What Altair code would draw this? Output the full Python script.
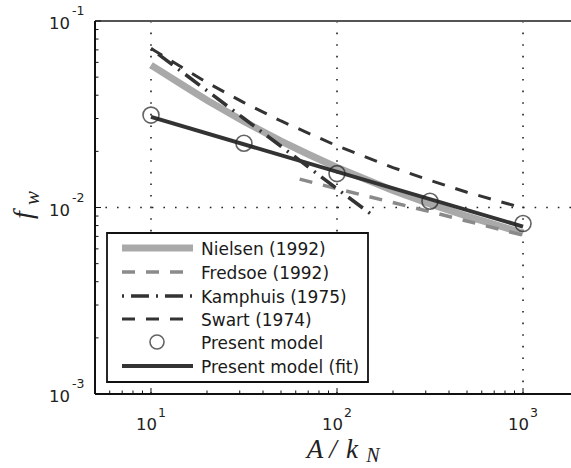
import altair as alt
import pandas as pd

# ---------------- data ----------------
nielsen_x = [10, 15, 20, 31.6, 50, 70, 100, 200, 316, 500, 1000]
nielsen_y = [0.058, 0.045, 0.0376, 0.0289, 0.0227, 0.0193, 0.0164, 0.01235, 0.01045, 0.00898, 0.0073]

fredsoe_x = [63, 100, 316, 1000]
fredsoe_y = [0.0142, 0.0126, 0.0095, 0.0071]

kamphuis_x = [10, 20, 31.6, 50, 100, 155]
kamphuis_y = [0.071, 0.0423, 0.030, 0.0213, 0.0126, 0.0091]

swart_x = [10, 20, 31.6, 50, 100, 200, 316, 500, 1000]
swart_y = [0.0712, 0.0468, 0.0365, 0.0291, 0.0214, 0.01637, 0.01398, 0.01208, 0.00993]

present_x = [10, 31.6, 100, 316, 1000]
present_y = [0.0313, 0.0221, 0.0152, 0.0108, 0.0082]

fit_x = [10, 1000]
fit_y = [0.0306, 0.0079]

legend_labels = ["Nielsen (1992)", "Fredsoe (1992)", "Kamphuis (1975)",
                 "Swart (1974)", "Present model", "Present model (fit)"]

x_major = [10, 100, 1000]
x_major_exp = ["1", "2", "3"]
x_minor = [6, 7, 8, 9, 20, 30, 40, 50, 60, 70, 80, 90,
           200, 300, 400, 500, 600, 700, 800, 900]
y_major = [0.001, 0.01, 0.1]
y_major_exp = ["-3", "-2", "-1"]
y_minor = [0.002, 0.003, 0.004, 0.005, 0.006, 0.007, 0.008, 0.009,
           0.02, 0.03, 0.04, 0.05, 0.06, 0.07, 0.08, 0.09]

# ---------------- styling / layout ----------------
W, H = 476, 373
SANS = "DejaVu Sans"
SERIF = "Liberation Serif"
DARK = "#333333"

xs = alt.Scale(type="log", domain=[5, 1811], nice=False)
ys = alt.Scale(type="log", domain=[0.001, 0.1], nice=False)


def df_xy(xv, yv):
    return pd.DataFrame({"x": xv, "y": yv})


def line(xv, yv, color, width, dash=None):
    kw = dict(color=color, strokeWidth=width, clip=True)
    if dash:
        kw["strokeDash"] = dash
    return alt.Chart(df_xy(xv, yv)).mark_line(**kw).encode(
        x=alt.X("x:Q", scale=xs, axis=None),
        y=alt.Y("y:Q", scale=ys, axis=None),
    )


STYLES = [
    dict(color="#a9a9a9", width=7, dash=None),
    dict(color="#8a8a8a", width=3.5, dash=[13, 11]),
    dict(color=DARK, width=3.5, dash=[2, 7, 18, 7]),
    dict(color=DARK, width=3, dash=[13, 11]),
    None,
    dict(color=DARK, width=4, dash=None),
]

layers = []

# grid (dotted)
layers.append(alt.Chart(pd.DataFrame({"x": x_major})).mark_rule(
    color="#222", strokeWidth=1.6, strokeDash=[1.6, 10]).encode(
    x=alt.X("x:Q", scale=xs, axis=None)))
layers.append(alt.Chart(pd.DataFrame({"y": y_major})).mark_rule(
    color="#222", strokeWidth=1.6, strokeDash=[1.6, 10]).encode(
    y=alt.Y("y:Q", scale=ys, axis=None)))

# series
layers.append(line(nielsen_x, nielsen_y, **STYLES[0]))
layers.append(line(fredsoe_x, fredsoe_y, **STYLES[1]))
layers.append(line(kamphuis_x, kamphuis_y, **STYLES[2]))
layers.append(line(swart_x, swart_y, **STYLES[3]))
layers.append(line(fit_x, fit_y, **STYLES[5]))
layers.append(alt.Chart(df_xy(present_x, present_y)).mark_point(
    shape="circle", size=256, filled=False, stroke="#222", strokeWidth=1.6).encode(
    x=alt.X("x:Q", scale=xs, axis=None),
    y=alt.Y("y:Q", scale=ys, axis=None)))

# frame
layers.append(alt.Chart().mark_rule(color="#555", strokeWidth=2).encode(
    x=alt.value(0), x2=alt.value(W), y=alt.value(0)))
layers.append(alt.Chart().mark_rule(color="#111", strokeWidth=2).encode(
    x=alt.value(0), y=alt.value(0), y2=alt.value(H)))
layers.append(alt.Chart().mark_rule(color="#111", strokeWidth=2).encode(
    x=alt.value(0), x2=alt.value(W), y=alt.value(H)))

# inward ticks
for vals, ln in ((y_major, 6), (y_minor, 3.5)):
    layers.append(alt.Chart(pd.DataFrame({"y": vals})).mark_rule(
        color="#111", strokeWidth=1).encode(
        y=alt.Y("y:Q", scale=ys, axis=None), x=alt.value(0), x2=alt.value(ln)))
for vals, ln in ((x_major, 6), (x_minor, 3.5)):
    layers.append(alt.Chart(pd.DataFrame({"x": vals})).mark_rule(
        color="#111", strokeWidth=1).encode(
        x=alt.X("x:Q", scale=xs, axis=None), y=alt.value(H), y2=alt.value(H - ln)))

# tick labels (10 with superscript exponent)
xl = pd.DataFrame({"x": x_major, "e": x_major_exp})
layers.append(alt.Chart(xl).mark_text(
    align="right", baseline="alphabetic", dx=6, font=SANS, fontSize=16.5, color="#222").encode(
    x=alt.X("x:Q", scale=xs, axis=None), y=alt.value(409), text=alt.value("10")))
layers.append(alt.Chart(xl).mark_text(
    align="left", baseline="alphabetic", dx=7, font=SANS, fontSize=12.5, color="#222").encode(
    x=alt.X("x:Q", scale=xs, axis=None), y=alt.value(396), text="e:N"))
yl = pd.DataFrame({"y": y_major, "e": y_major_exp})
layers.append(alt.Chart(yl).mark_text(
    align="right", baseline="alphabetic", dy=8, font=SANS, fontSize=16.5, color="#222").encode(
    y=alt.Y("y:Q", scale=ys, axis=None), x=alt.value(-25), text=alt.value("10")))
layers.append(alt.Chart(yl).mark_text(
    align="left", baseline="alphabetic", dy=-6, font=SANS, fontSize=12.5, color="#222").encode(
    y=alt.Y("y:Q", scale=ys, axis=None), x=alt.value(-23), text="e:N"))

# axis titles
for txt, xp, yp, fs in (("A", 220, 437, 27), ("/", 238, 437, 27), ("k", 257, 437, 27),
                        ("N", 278, 441, 20)):
    layers.append(alt.Chart().mark_text(
        align="center", baseline="alphabetic", font=SERIF, fontStyle="italic",
        fontSize=fs, color="#222").encode(
        x=alt.value(xp), y=alt.value(yp), text=alt.value(txt)))
for txt, xp, yp, fs in (("f", -71, 194, 28), ("w", -62, 177, 21)):
    layers.append(alt.Chart().mark_text(
        align="center", baseline="middle", angle=270, font=SERIF, fontStyle="italic",
        fontSize=fs, color="#222").encode(
        x=alt.value(xp), y=alt.value(yp), text=alt.value(txt)))

# legend
layers.append(alt.Chart().mark_rect(fill="white", stroke="#111", strokeWidth=1.8).encode(
    x=alt.value(12), x2=alt.value(273), y=alt.value(212), y2=alt.value(361)))
row_y = [227, 251, 275, 298, 321, 345]
for lab, st, ry in zip(legend_labels, STYLES, row_y):
    if st is None:
        layers.append(alt.Chart().mark_point(
            shape="circle", size=196, filled=False, stroke="#222", strokeWidth=1.6).encode(
            x=alt.value(62), y=alt.value(ry)))
    else:
        kw = dict(color=st["color"], strokeWidth=st["width"])
        if st["dash"]:
            kw["strokeDash"] = st["dash"]
        layers.append(alt.Chart().mark_rule(**kw).encode(
            x=alt.value(27), x2=alt.value(98), y=alt.value(ry)))
    layers.append(alt.Chart().mark_text(
        align="left", baseline="alphabetic", font=SANS, fontSize=17, color="#1a1a1a").encode(
        x=alt.value(106), y=alt.value(ry + 6.5), text=alt.value(lab)))

chart = alt.layer(*layers).properties(
    width=W, height=H,
    autosize=alt.AutoSizeParams(type="none"),
    padding={"left": 95, "top": 21, "right": 0, "bottom": 74},
    background="white",
).configure_view(stroke=None)

chart.save("out.html", embed_options={"renderer": "svg", "actions": False})
